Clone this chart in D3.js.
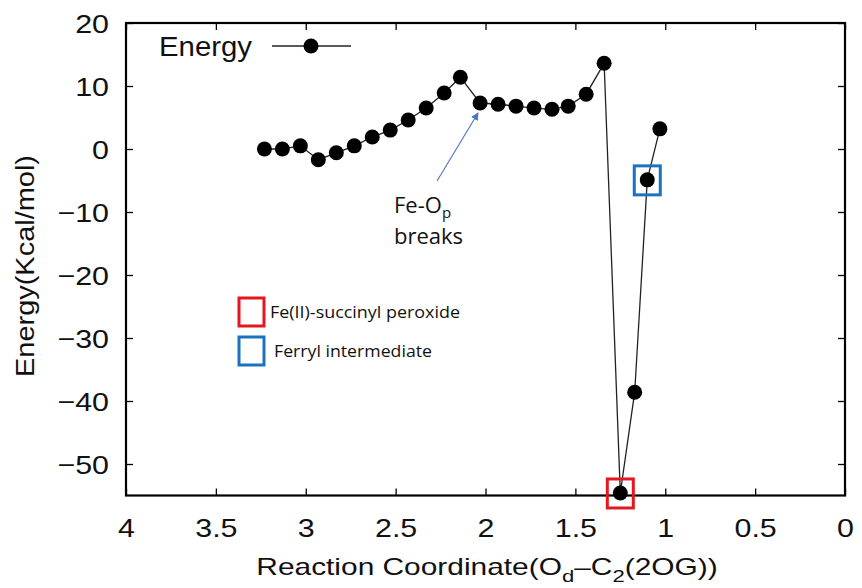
<!DOCTYPE html>
<html>
<head>
<meta charset="utf-8">
<script src="https://cdn.jsdelivr.net/npm/d3@7"></script>
<style>
  body { margin: 0; background: #fff; }
  svg { display: block; }
</style>
</head>
<body>
<div id="chart"></div>
<script>
// reaction coordinate (O_d - C2 distance) and energy along the scan
const coords = [3.23, 3.13, 3.03, 2.93, 2.83, 2.73, 2.63, 2.53, 2.43, 2.33, 2.23, 2.14,
                2.03, 1.93, 1.83, 1.73, 1.63, 1.54, 1.44, 1.34, 1.25, 1.17, 1.10, 1.03];
const energies = [0.0, 0.0, 0.5, -1.7, -0.6, 0.5, 1.9, 3.0, 4.6, 6.5, 8.9, 11.4,
                  7.3, 7.1, 6.8, 6.5, 6.3, 6.8, 8.7, 13.6, -54.6, -38.6, -4.9, 3.2];
const xTicks = [4, 3.5, 3, 2.5, 2, 1.5, 1, 0.5, 0];
const yTicks = [20, 10, 0, -10, -20, -30, -40, -50];
const boxLabels = ["Fe(II)-succinyl peroxide", "Ferryl intermediate"];
const boxIdx = [20, 22];   // which points get the coloured squares
const boxColors = ["#e3171e", "#1b72be"];

const width = 862, height = 588;
const pLeft = 126, pRight = 845, pTop = 23, pBottom = 495.5;
const sx = 1.17; // the plot font is a wide helvetica, stretch a bit

let svg = d3.select("#chart").append("svg")
    .attr("width", width)
    .attr("height", height);

let x = d3.scaleLinear().domain([4, 0]).range([pLeft, pRight]);
let y = d3.scaleLinear().domain([-55, 20]).range([pBottom, pTop]);

const tickFont = "Liberation Sans, Arial, sans-serif";

// bottom axis, ticks pointing in
let gx = svg.append("g")
    .attr("transform", `translate(0,${pBottom})`)
    .call(d3.axisBottom(x).tickValues(xTicks).tickSizeInner(-7).tickSizeOuter(0)
        .tickFormat(d3.format("")));
// left axis
let gy = svg.append("g")
    .attr("transform", `translate(${pLeft},0)`)
    .call(d3.axisLeft(y).tickValues(yTicks).tickSizeInner(-7).tickSizeOuter(0));
// mirrored ticks, top and right
let gt = svg.append("g")
    .attr("transform", `translate(0,${pTop})`)
    .call(d3.axisTop(x).tickValues(xTicks).tickSizeInner(-7).tickSizeOuter(0).tickFormat(""));
let gr = svg.append("g")
    .attr("transform", `translate(${pRight},0)`)
    .call(d3.axisRight(y).tickValues(yTicks).tickSizeInner(-7).tickSizeOuter(0).tickFormat(""));

[gx, gy, gt, gr].forEach(g => {
    g.select(".domain").remove();
    g.selectAll(".tick line").attr("stroke", "#000").attr("stroke-width", 1.3);
    g.selectAll(".tick text")
        .attr("fill", "#111")
        .style("font-family", tickFont)
        .style("font-size", "26px");
});
gx.selectAll(".tick text")
    .attr("y", 0).attr("dy", null)
    .attr("transform", `translate(0,41.5) scale(${sx},1)`);
gy.selectAll(".tick text")
    .attr("x", 0).attr("dy", "0.35em")
    .attr("transform", `translate(-17,0) scale(${sx},1)`);

// frame
svg.append("rect")
    .attr("x", pLeft).attr("y", pTop)
    .attr("width", pRight - pLeft).attr("height", pBottom - pTop)
    .attr("fill", "none")
    .attr("stroke", "#000")
    .attr("stroke-width", 2.2);

// axis titles
let xt = svg.append("text")
    .attr("transform", `translate(487,575) scale(1.3,1)`)
    .attr("text-anchor", "middle")
    .style("font-family", tickFont)
    .style("font-size", "23px")
    .attr("fill", "#111");
xt.append("tspan").text("Reaction Coordinate(O");
xt.append("tspan").attr("dy", 7).style("font-size", "17px").text("d");
xt.append("tspan").attr("dy", -7).text("\u2013C");
xt.append("tspan").attr("dy", 7).style("font-size", "17px").text("2");
xt.append("tspan").attr("dy", -7).text("(2OG))");

svg.append("text")
    .attr("transform", `translate(34,266) rotate(-90)`)
    .attr("text-anchor", "middle")
    .attr("textLength", 222)
    .attr("lengthAdjust", "spacingAndGlyphs")
    .style("font-family", tickFont)
    .style("font-size", "25px")
    .attr("fill", "#111")
    .text("Energy(Kcal/mol)");

// the energy line and points
let pts = coords.map((c, i) => [c, energies[i]]);
svg.append("path")
    .datum(pts)
    .attr("d", d3.line().x(d => x(d[0])).y(d => y(d[1])))
    .attr("fill", "none")
    .attr("stroke", "#222")
    .attr("stroke-width", 1.3);

svg.selectAll("circle.pt")
    .data(pts)
    .enter().append("circle")
    .attr("class", "pt")
    .attr("cx", d => x(d[0]))
    .attr("cy", d => y(d[1]))
    .attr("r", 7.5)
    .attr("fill", "#000");

// coloured squares on the two intermediates
svg.selectAll("rect.mark")
    .data(boxIdx)
    .enter().append("rect")
    .attr("class", "mark")
    .attr("x", i => x(coords[i]) - 13)
    .attr("y", i => y(energies[i]) - 14)
    .attr("width", 26)
    .attr("height", 29)
    .attr("fill", "none")
    .attr("stroke", (d, i) => boxColors[i])
    .attr("stroke-width", 3);

// key at top left
svg.append("text")
    .attr("x", 159).attr("y", 56)
    .attr("textLength", 93)
    .attr("lengthAdjust", "spacingAndGlyphs")
    .style("font-family", tickFont)
    .style("font-size", "27px")
    .attr("fill", "#111")
    .text("Energy");
svg.append("line")
    .attr("x1", 272).attr("x2", 351)
    .attr("y1", 46).attr("y2", 46)
    .attr("stroke", "#222").attr("stroke-width", 1.3);
svg.append("circle")
    .attr("cx", 311).attr("cy", 46).attr("r", 7.5).attr("fill", "#000");

// box legend
const annFont = "'Open Sans', Lato, sans-serif";
const labLen = [190, 158];
boxLabels.forEach((lab, i) => {
    let yy = 298 + i * 39;
    svg.append("rect")
        .attr("x", 239).attr("y", yy)
        .attr("width", 25).attr("height", 28)
        .attr("fill", "none")
        .attr("stroke", boxColors[i])
        .attr("stroke-width", 3);
    svg.append("text")
        .attr("x", i == 0 ? 270 : 274)
        .attr("y", yy + 20)
        .attr("textLength", labLen[i])
        .attr("lengthAdjust", "spacingAndGlyphs")
        .style("font-family", annFont)
        .style("font-size", "17px")
        .attr("fill", "#111")
        .text(lab);
});

// annotation arrow
svg.append("defs").append("marker")
    .attr("id", "arr")
    .attr("viewBox", "0 0 10 10")
    .attr("refX", 9).attr("refY", 5)
    .attr("markerWidth", 7).attr("markerHeight", 7)
    .attr("orient", "auto")
    .append("path")
    .attr("d", "M0,0L10,5L0,10z")
    .attr("fill", "#4a74c4");
svg.append("line")
    .attr("x1", 437).attr("y1", 181)
    .attr("x2", 478).attr("y2", 113)
    .attr("stroke", "#4a74c4")
    .attr("stroke-width", 1.1)
    .attr("marker-end", "url(#arr)");

let ann = svg.append("text")
    .attr("x", 394).attr("y", 213)
    .style("font-family", annFont)
    .style("font-size", "22px")
    .attr("fill", "#111");
ann.append("tspan").text("Fe-O");
ann.append("tspan").attr("dy", 5).style("font-size", "15px").text("p");
svg.append("text")
    .attr("x", 394).attr("y", 244)
    .style("font-family", annFont)
    .style("font-size", "22px")
    .attr("fill", "#111")
    .text("breaks");
</script>
</body>
</html>
